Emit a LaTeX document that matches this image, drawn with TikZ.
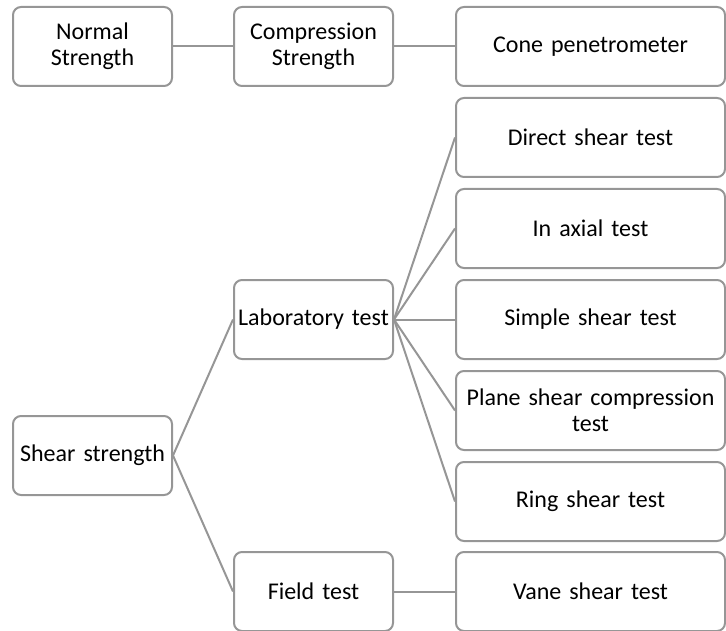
\documentclass[tikz,border=0pt]{standalone}
\usepackage{fontspec}
\setmainfont{Carlito}
\usetikzlibrary{positioning}

\definecolor{linegray}{RGB}{150,150,150}

\tikzset{
  box/.style={draw=linegray, line width=1pt, rounded corners=4pt, minimum height=39.5pt,
    align=center, inner sep=1.25pt, font=\fontsize{12}{13}\selectfont},
  smallbox/.style={box, text width=77pt},
  widebox/.style={box, text width=132pt},
  link/.style={draw=linegray, line width=1pt}
}

\begin{document}
\begin{tikzpicture}[x=0.5pt, y=-0.5pt]
\useasboundingbox (0,0) rectangle (726,630);

% top row
\node[smallbox] (normal) at (92.5,46.5) {Normal\\Strength};
\node[smallbox] (compr) at (313.5,46.5) {Compression\\Strength};
\node[widebox] (cone) at (590.5,46.5) {Cone penetrometer};

% shear strength tree
\node[smallbox] (shear) at (92.5,455.5) {Shear strength};
\node[smallbox] (lab) at (313.5,319.5) {Laboratory test};
\node[smallbox] (field) at (313.5,591.5) {Field test};

\node[widebox] (direct) at (590.5,137.5) {Direct shear test};
\node[widebox] (axial) at (590.5,228.5) {In axial test};
\node[widebox] (simple) at (590.5,319.5) {Simple shear test};
\node[widebox] (plane) at (590.5,410.5) {Plane shear compression\\test};
\node[widebox] (ring) at (590.5,501.5) {Ring shear test};
\node[widebox] (vane) at (590.5,591.5) {Vane shear test};

% links
\draw[link] (normal.east) -- (compr.west);
\draw[link] (compr.east) -- (cone.west);

\draw[link] (shear.east) -- (lab.west);
\draw[link] (shear.east) -- (field.west);

\foreach \t in {direct,axial,simple,plane,ring}
  \draw[link] (lab.east) -- (\t.west);

\draw[link] (field.east) -- (vane.west);

\end{tikzpicture}
\end{document}
